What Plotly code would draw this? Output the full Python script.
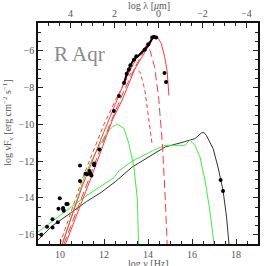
import plotly.graph_objects as go

# ---- data (log nu [Hz], log nuFnu) ----
obs_lognu = [9.15, 9.41, 9.66, 9.66, 9.9, 9.93, 9.99, 10.14, 10.15, 10.17, 10.29, 10.35,
             10.91, 10.91, 11.16, 11.24, 11.34, 11.39, 11.43, 11.55, 11.55, 11.79,
             12.45, 12.68, 12.91, 13.03, 13.13, 13.2, 13.36, 13.47, 13.85, 14.01,
             14.19, 14.26, 14.37, 14.75, 14.82, 17.3, 17.41]
obs_lognf = [-16.0, -15.57, -15.16, -15.6, -15.32, -14.58, -14.02, -14.54, -14.62, -14.7, -14.33, -14.33,
             -12.24, -13.08, -12.68, -12.71, -12.53, -12.68, -12.78, -12.23, -12.13, -11.37,
             -9.28, -8.46, -7.76, -7.25, -7.03, -6.8, -6.49, -6.31, -5.95, -5.66,
             -5.29, -5.26, -5.29, -7.21, -7.7, -13.02, -13.62]

spec_lognu = [12.9, 13.05, 13.2, 13.36, 13.55, 13.8, 14.03, 14.2, 14.3, 14.41]
spec_lognf = [-7.8, -7.2, -6.8, -6.45, -6.3, -6.0, -5.7, -5.3, -5.22, -5.29]

red_sum_x = [10.1, 11.0, 12.0, 12.5, 13.0, 13.5, 13.9, 14.1, 14.3, 14.45, 14.6, 14.75, 14.87, 14.95]
red_sum_y = [-16.5, -13.4, -10.4, -9.0, -7.5, -6.35, -5.75, -5.45, -5.25, -5.3, -5.6, -6.3, -7.1, -8.44]

red_b_x = [10.25, 11.44, 12.39, 12.82, 13.4, 13.9, 14.25]
red_b_y = [-16.5, -12.82, -9.74, -8.7, -7.0, -6.0, -5.3]

red_d1_x = [10.0, 11.06, 12.0, 12.6, 13.0, 13.3, 13.45, 13.65, 13.85, 14.03, 14.19]
red_d1_y = [-16.5, -12.82, -10.0, -8.5, -7.6, -7.1, -6.95, -7.2, -8.1, -9.78, -11.1]

red_d2_x = [10.18, 11.3, 12.2, 12.9, 13.5, 13.8, 13.95, 14.1, 14.3, 14.48, 14.65, 14.78, 14.87]
red_d2_y = [-16.5, -13.0, -10.2, -8.2, -6.7, -6.05, -5.85, -6.0, -6.9, -8.5, -11.0, -13.9, -16.5]

green_a_x = [10.11, 11.12, 11.5, 11.78, 12.1, 12.4, 12.62, 12.91, 13.13, 13.36, 13.52, 13.57]
green_a_y = [-16.5, -12.82, -11.8, -11.2, -10.5, -10.12, -10.0, -10.23, -11.05, -12.32, -14.13, -16.5]

green_b_x = [9.0, 9.6, 10.5, 11.3, 11.87, 12.45, 12.7, 13.36, 14.26, 14.78, 15.68, 15.9, 16.13,
             16.36, 16.59, 16.81, 17.0]
green_b_y = [-15.85, -15.3, -14.5, -13.8, -13.35, -12.9, -12.5, -11.95, -11.41, -11.14, -11.14, -10.85,
             -11.14, -11.77, -13.04, -14.67, -16.5]

black_x = [9.0, 9.62, 10.5, 11.2, 11.87, 12.53, 13.28, 14.0, 14.78, 15.5, 15.83, 16.13, 16.43,
           16.55, 16.65, 16.96, 17.18, 17.41, 17.57, 17.68]
black_y = [-16.28, -15.54, -14.8, -14.2, -13.7, -13.1, -12.32, -11.8, -11.23, -11.0, -10.87, -10.78,
           -10.47, -10.45, -10.6, -11.32, -12.32, -13.58, -15.03, -16.5]

x_ticks = [10, 12, 14, 16, 18]
y_ticks = [-6, -8, -10, -12, -14, -16]
lam_ticks = [4, 2, 0, -2, -4]
LOGC_UM = 14.477  # log10(c in micron/s)

RED = "#ff3b3b"
GREEN = "#3cf03c"
FONT = "Liberation Serif"
GRAY = "#555555"

fig = go.Figure()
fig.add_trace(go.Scatter(x=black_x, y=black_y, mode="lines", line=dict(color="#333333", width=1)))
fig.add_trace(go.Scatter(x=green_b_x, y=green_b_y, mode="lines", line=dict(color=GREEN, width=1)))
fig.add_trace(go.Scatter(x=green_a_x, y=green_a_y, mode="lines", line=dict(color=GREEN, width=1)))
fig.add_trace(go.Scatter(x=red_d1_x, y=red_d1_y, mode="lines", line=dict(color=RED, width=1, dash="4px,3px")))
fig.add_trace(go.Scatter(x=red_d2_x, y=red_d2_y, mode="lines", line=dict(color=RED, width=1, dash="8px,4px")))
fig.add_trace(go.Scatter(x=red_b_x, y=red_b_y, mode="lines", line=dict(color=RED, width=1)))
fig.add_trace(go.Scatter(x=red_sum_x, y=red_sum_y, mode="lines", line=dict(color=RED, width=1)))
fig.add_trace(go.Scatter(x=spec_lognu, y=spec_lognf, mode="lines", line=dict(color="black", width=2)))
fig.add_trace(go.Scatter(x=obs_lognu, y=obs_lognf, mode="markers", marker=dict(color="black", size=4)))
# invisible trace to carry the top wavelength axis
fig.add_trace(go.Scatter(x=[LOGC_UM - 9, LOGC_UM - 19], y=[-10, -10], xaxis="x2", mode="markers",
                         marker=dict(opacity=0), hoverinfo="skip"))

axis_common = dict(ticks="inside", ticklen=5, tickwidth=1, tickcolor="#222", showline=True,
                   linecolor="#111", linewidth=1.5, showgrid=False, zeroline=False,
                   tickfont=dict(family=FONT, size=10, color=GRAY))

title_font = dict(family=FONT, size=10, color=GRAY)

fig.update_layout(
    width=266, height=266, showlegend=False,
    margin=dict(l=38, r=6, t=23, b=22),
    paper_bgcolor="white", plot_bgcolor="white",
    xaxis=dict(range=[9, 19], tickvals=x_ticks, ticktext=[str(v) for v in x_ticks],
               minor=dict(dtick=0.5, tick0=9, ticks="inside", ticklen=3, tickcolor="#222"),
               **axis_common),
    xaxis2=dict(range=[LOGC_UM - 9, LOGC_UM - 19], overlaying="x", side="top", anchor="y",
                tickvals=lam_ticks, ticktext=["4", "2", "0", "−2", "−4"],
                minor=dict(dtick=0.5, ticks="inside", ticklen=3, tickcolor="#222"),
                **axis_common),
    yaxis=dict(range=[-16.5, -4.5], tickvals=y_ticks, ticktext=["−6", "−8", "−10", "−12", "−14", "−16"],
               mirror="ticks",
               minor=dict(dtick=0.5, tick0=-16, ticks="inside", ticklen=3, tickcolor="#222"),
               **axis_common),
    annotations=[
        dict(text="R Aqr", x=0.065, y=0.86, xref="paper", yref="paper", showarrow=False,
             xanchor="left", yanchor="middle", font=dict(family=FONT, size=21, color="#8a8a8a")),
        dict(text="log ν [Hz]", x=0.5, y=-0.086, xref="paper", yref="paper", showarrow=False,
             xanchor="center", yanchor="middle", font=title_font),
        dict(text="log λ [<i>μ</i>m]", x=0.505, y=1.078, xref="paper", yref="paper", showarrow=False,
             xanchor="center", yanchor="middle", font=title_font),
        dict(text="log νF<sub>ν</sub> [erg cm<sup>−2</sup> s<sup>−1</sup>]", x=-0.135, y=0.55,
             xref="paper", yref="paper", showarrow=False, textangle=-90,
             xanchor="center", yanchor="middle", font=title_font),
    ],
)

fig.write_html("out.html", config={"displayModeBar": False},
               post_script="document.body.style.margin='0px';")
